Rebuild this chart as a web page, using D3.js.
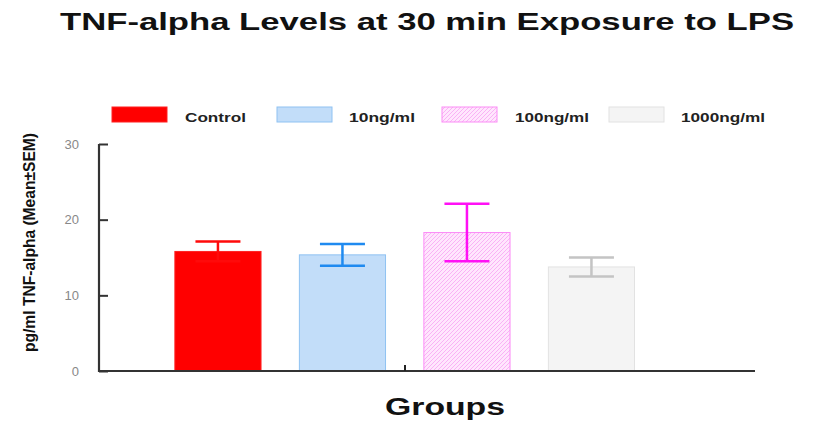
<!DOCTYPE html>
<html>
<head>
<meta charset="utf-8">
<script src="https://cdn.jsdelivr.net/npm/d3@7"></script>
<style>
	body { margin: 0; background: #fff; }
	svg { display: block; }
	text { font-family: "Liberation Sans", Arial, sans-serif; }
</style>
</head>
<body>
<div id="chart"></div>
<script>

// Data
const groups = ['Control', '10ng/ml', '100ng/ml', '1000ng/ml'];
const means = [15.8, 15.35, 18.3, 13.75];
const sems = [1.3, 1.45, 3.8, 1.25];
const yTicks = [0, 10, 20, 30];

const width = 838;
const height = 436;

let svg = d3.select('#chart').append('svg')
	.attr('width', width)
	.attr('height', height);

// hatch for the 100ng/ml bar
let defs = svg.append('defs');
let pat = defs.append('pattern')
	.attr('id', 'hatch')
	.attr('patternUnits', 'userSpaceOnUse')
	.attr('width', 4)
	.attr('height', 4);
pat.append('rect').attr('width', 4).attr('height', 4).attr('fill', '#ffe6fd');
pat.append('path')
	.attr('d', 'M-1,1 l2,-2 M0,4 l4,-4 M3,5 l2,-2')
	.attr('stroke', '#f9b2f5')
	.attr('stroke-width', 1);

const fills = ['#ff0000', '#c2ddf9', 'url(#hatch)', '#f4f4f4'];
const strokes = ['#ff2020', '#8fc2f2', '#fb8cf6', '#e2e2e2'];
const errColors = ['#ff0a0a', '#1f8af0', '#ff10f5', '#c4c4c4'];

let x = d3.scaleBand().domain(groups)
	.range([155.7, 653.7])
	.paddingInner(0.3)
	.paddingOuter(0.15);

let y = d3.scaleLinear().domain([0, 30]).range([371, 144]);

// Title
svg.append('text')
	.attr('x', 60)
	.attr('y', 30)
	.attr('font-size', 23)
	.attr('font-weight', 'bold')
	.attr('fill', '#111')
	.attr('textLength', 734)
	.attr('lengthAdjust', 'spacingAndGlyphs')
	.text('TNF-alpha Levels at 30 min Exposure to LPS');

// Legend
const legX = [112, 277, 442, 609];
const legTextX = [185, 349, 515, 681];
const legW = [61, 66, 74, 84];
let leg = svg.selectAll('g.leg').data(groups).enter().append('g').attr('class', 'leg');
leg.append('rect')
	.attr('x', function(d, i) { return legX[i]; })
	.attr('y', 107)
	.attr('width', 55)
	.attr('height', 15)
	.attr('fill', function(d, i) { return fills[i]; })
	.attr('stroke', function(d, i) { return strokes[i]; })
	.attr('stroke-width', 1);
leg.append('text')
	.attr('x', function(d, i) { return legTextX[i]; })
	.attr('y', 122)
	.attr('font-size', 13)
	.attr('font-weight', 'bold')
	.attr('fill', '#222')
	.attr('textLength', function(d, i) { return legW[i]; })
	.attr('lengthAdjust', 'spacingAndGlyphs')
	.text(function(d) { return d; });

// Bars
let bar = svg.selectAll('g.bar').data(groups).enter().append('g').attr('class', 'bar');

bar.append('rect')
	.attr('x', function(d) { return x(d) + 0.5; })
	.attr('y', function(d, i) { return y(means[i]); })
	.attr('width', x.bandwidth() - 1)
	.attr('height', function(d, i) { return y(0) - y(means[i]); })
	.attr('fill', function(d, i) { return fills[i]; })
	.attr('stroke', function(d, i) { return strokes[i]; })
	.attr('stroke-width', 1);

// error bars
let capW = 45;
bar.append('path')
	.attr('d', function(d, i) {
		let cx = x(d) + x.bandwidth() / 2;
		let top = y(means[i] + sems[i]);
		let bot = y(means[i] - sems[i]);
		return 'M' + cx + ',' + top + 'V' + bot +
			'M' + (cx - capW / 2) + ',' + top + 'h' + capW +
			'M' + (cx - capW / 2) + ',' + bot + 'h' + capW;
	})
	.attr('fill', 'none')
	.attr('stroke', function(d, i) { return errColors[i]; })
	.attr('stroke-width', 2.5);

// Axes
let yAxis = svg.append('g')
	.attr('transform', 'translate(99,0)')
	.call(d3.axisRight(y).tickValues(yTicks).tickSize(9).tickFormat(''));
yAxis.select('.domain').remove();
yAxis.selectAll('.tick line').attr('stroke', '#333').attr('stroke-width', 2);

svg.append('line')
	.attr('x1', 99).attr('x2', 99)
	.attr('y1', y(30)).attr('y2', y(0) + 1)
	.attr('stroke', '#333').attr('stroke-width', 2.2);

svg.append('line')
	.attr('x1', 98).attr('x2', 755)
	.attr('y1', y(0)).attr('y2', y(0))
	.attr('stroke', '#333').attr('stroke-width', 2.2);

// small centre tick on the x axis
svg.append('line')
	.attr('x1', 405).attr('x2', 405)
	.attr('y1', y(0)).attr('y2', y(0) - 6)
	.attr('stroke', '#222').attr('stroke-width', 2);

// y tick labels
svg.selectAll('text.ylab').data(yTicks).enter().append('text')
	.attr('class', 'ylab')
	.attr('x', 79)
	.attr('y', function(d) { return y(d) + 4.5; })
	.attr('text-anchor', 'end')
	.attr('font-size', 13)
	.attr('fill', '#888')
	.text(function(d) { return d; });

// Axis titles
svg.append('text')
	.attr('transform', 'translate(35,352) rotate(-90)')
	.attr('font-size', 17)
	.attr('font-weight', 'bold')
	.attr('fill', '#111')
	.attr('textLength', 219)
	.attr('lengthAdjust', 'spacingAndGlyphs')
	.text('pg/ml TNF-alpha (Mean±SEM)');

svg.append('text')
	.attr('x', 385)
	.attr('y', 415)
	.attr('font-size', 23)
	.attr('font-weight', 'bold')
	.attr('fill', '#111')
	.attr('textLength', 120)
	.attr('lengthAdjust', 'spacingAndGlyphs')
	.text('Groups');

</script>
</body>
</html>
